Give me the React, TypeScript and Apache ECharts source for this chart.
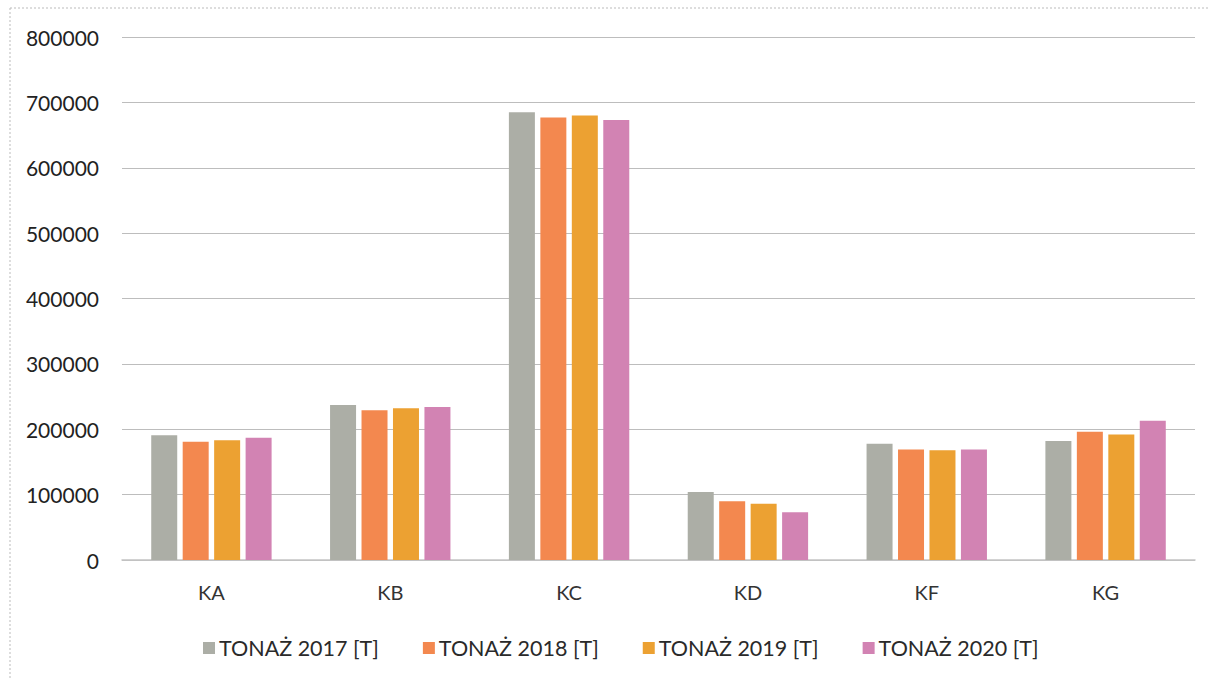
import React, { useEffect, useRef } from "react";
import * as echarts from "echarts";

const categories = ["KA", "KB", "KC", "KD", "KF", "KG"];
const seriesNames = ["TONAŻ 2017 [T]", "TONAŻ 2018 [T]", "TONAŻ 2019 [T]", "TONAŻ 2020 [T]"];
const tonnage2017 = [191000, 237000, 685000, 104000, 178000, 182000];
const tonnage2018 = [181000, 229000, 677000, 90000, 169000, 196000];
const tonnage2019 = [183000, 232000, 680000, 86000, 168000, 192000];
const tonnage2020 = [187000, 234000, 673000, 73000, 169000, 213000];
const colors = ["#acaea6", "#f3884f", "#eca132", "#d283b3"];

export default function App() {
  const ref = useRef<HTMLDivElement>(null);
  useEffect(() => {
    if (!ref.current) return;
    const chart = echarts.init(ref.current, null, { renderer: "svg" });
    const data = [tonnage2017, tonnage2018, tonnage2019, tonnage2020];
    chart.setOption({
      animation: false,
      backgroundColor: "#ffffff",
      textStyle: { fontFamily: "Lato, 'Open Sans', sans-serif" },
      grid: { left: 122, right: 15, top: 37, bottom: 119 },
      legend: {
        data: seriesNames,
        left: 198,
        top: 632,
        itemWidth: 12,
        itemHeight: 12,
        itemGap: 44,
        icon: "rect",
        textStyle: { fontSize: 21.5, color: "#2a2a2a", padding: [0, 0, 0, -1] },
      },
      xAxis: {
        type: "category",
        data: categories,
        axisLine: { show: true, lineStyle: { color: "#c4c4c4", width: 1.5 } },
        axisTick: { show: false },
        axisLabel: { fontSize: 20, color: "#333", margin: 22 },
      },
      yAxis: {
        type: "value",
        min: 0,
        max: 800000,
        interval: 100000,
        axisLine: { show: false },
        axisTick: { show: false },
        axisLabel: {
          fontSize: 21,
          color: "#222",
          margin: 23,
          formatter: (v: number) => String(v),
        },
        splitLine: { lineStyle: { color: "#bdbdbd", width: 1.2 } },
      },
      series: seriesNames.map((name, i) => ({
        name,
        type: "bar",
        data: data[i],
        barWidth: 26,
        barGap: "21%",
        itemStyle: { color: colors[i] },
      })),
      graphic: [
        {
          type: "line",
          shape: { x1: 10, y1: 8, x2: 1210, y2: 8 },
          style: { stroke: "#bbb", lineWidth: 1, lineDash: [2, 2] },
        },
        {
          type: "line",
          shape: { x1: 10, y1: 8, x2: 10, y2: 679 },
          style: { stroke: "#bbb", lineWidth: 1, lineDash: [2, 2] },
        },
      ],
    });
    return () => chart.dispose();
  }, []);
  return (
    <div
      ref={ref}
      style={{ position: "fixed", top: 0, left: 0, width: 1210, height: 679 }}
    />
  );
}
